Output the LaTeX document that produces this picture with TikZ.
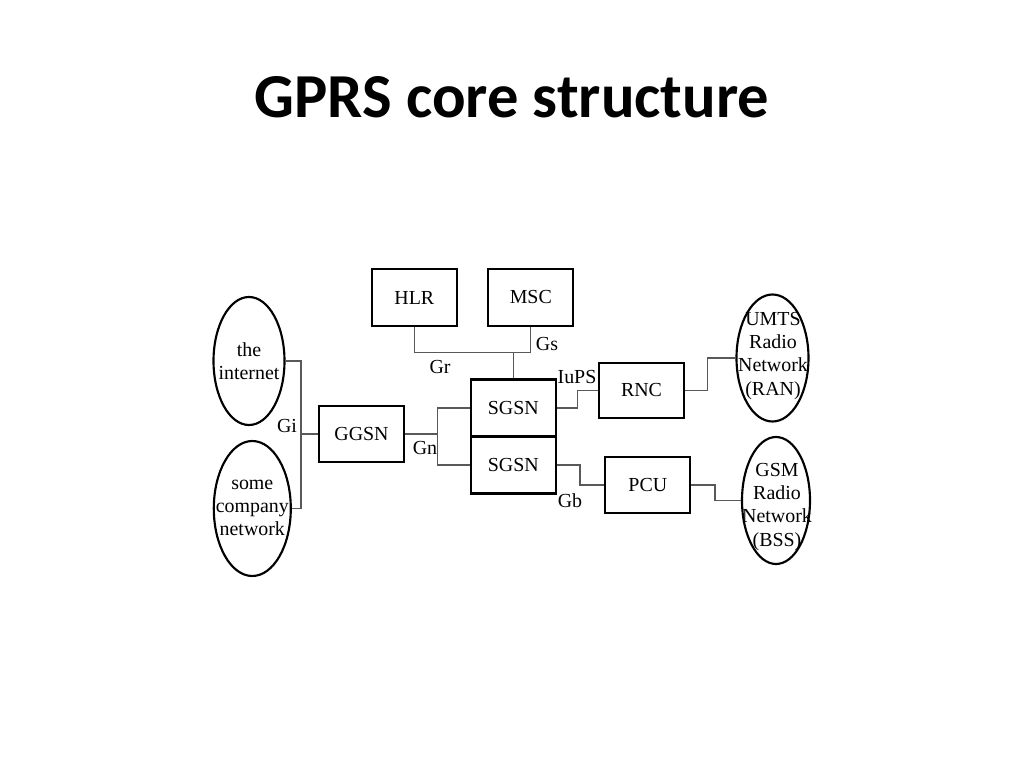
\documentclass[tikz,border=0pt]{standalone}
\usepackage{fontspec}
\setmainfont{Liberation Serif}
\newfontfamily\titlefont{Carlito}
\usetikzlibrary{shapes.geometric}
\newdimen\px \px=0.703125pt
\begin{document}
\begin{tikzpicture}[x=0.703125pt,y=-0.703125pt,
  txt/.style={font=\fontsize{14}{16.2}\selectfont},
  box/.style={draw, line width=1.5pt, minimum width=85\px, minimum height=56.5\px, inner sep=0pt, txt},
  oval/.style={draw, ellipse, line width=1.5pt, inner sep=0pt},
  otext/.style={align=center, inner sep=0pt, txt},
  wire/.style={line width=0.8pt, black!65},
  lbl/.style={inner sep=0pt, txt}]
\fill[white] (0,0) rectangle (1024,768);
\useasboundingbox (0,0) rectangle (1024,768);
\node[font=\titlefont\bfseries\fontsize{44}{50}\selectfont, anchor=base] (title) at (512,118) {GPRS core structure};
% boxes
\node[box] (hlr) at (414.3,297.5) {HLR};
\node[box] (msc) at (530.8,297.5) {MSC};
\node[box, minimum height=57\px] (sgsn1) at (513.3,408) {SGSN};
\node[box, minimum height=57\px] (sgsn2) at (513.3,465) {SGSN};
\node[box] (ggsn) at (361.5,434) {GGSN};
\node[box, minimum height=55.6\px] (rnc) at (641.5,390.5) {RNC};
\node[box] (pcu) at (647.8,485) {PCU};
% ellipses
\node[oval, minimum width=71\px, minimum height=128\px] (inet) at (249,361) {};
\node[otext] (inett) at (249,361) {the\\internet};
\node[oval, minimum width=77\px, minimum height=135\px] (comp) at (252.3,508.5) {};
\node[otext] (compt) at (252.3,508) {some\\company\\network};
\node[oval, minimum width=72\px, minimum height=127\px] (umts) at (772.5,358) {};
\node[otext] (umtst) at (773,356) {UMTS\\Radio\\Network\\(RAN)};
\node[oval, minimum width=68\px, minimum height=127\px] (gsm) at (776,500.5) {};
\node[otext] (gsmt) at (777,507) {GSM\\Radio\\Network\\(BSS)};
% bus points
\coordinate (gibus) at (301,434);
\coordinate (grbus) at (513.3,352.3);
\coordinate (gnbus) at (437.3,434);
\coordinate (iub) at (577.3,408);
\coordinate (gbb) at (580,465);
\coordinate (rnb) at (707.7,390.5);
\coordinate (pcb) at (715,485);
% wires
\draw[wire] (inet.east) -| (gibus) |- (comp.east);
\draw[wire] (gibus) -- (ggsn.west);
\draw[wire] (hlr.south) |- (grbus) -| (msc.south);
\draw[wire] (grbus) -- (sgsn1.north);
\draw[wire] (ggsn.east) -- (gnbus);
\draw[wire] (sgsn1.west) -| (gnbus) |- (sgsn2.west);
\draw[wire] (sgsn1.east) -- (iub) |- (rnc.west);
\draw[wire] (sgsn2.east) -- (gbb) |- (pcu.west);
\draw[wire] (rnc.east) -- (rnb) |- (umts.west);
\draw[wire] (pcu.east) -- (pcb) |- (gsm.west);
% labels
\node[lbl] (gr) at (440,367) {Gr};
\node[lbl] (gs) at (547,344) {Gs};
\node[lbl] (gi) at (287,426) {Gi};
\node[lbl] (gn) at (425,448) {Gn};
\node[lbl] (iups) at (577,377) {IuPS};
\node[lbl] (gb) at (570,501) {Gb};
\end{tikzpicture}
\end{document}
